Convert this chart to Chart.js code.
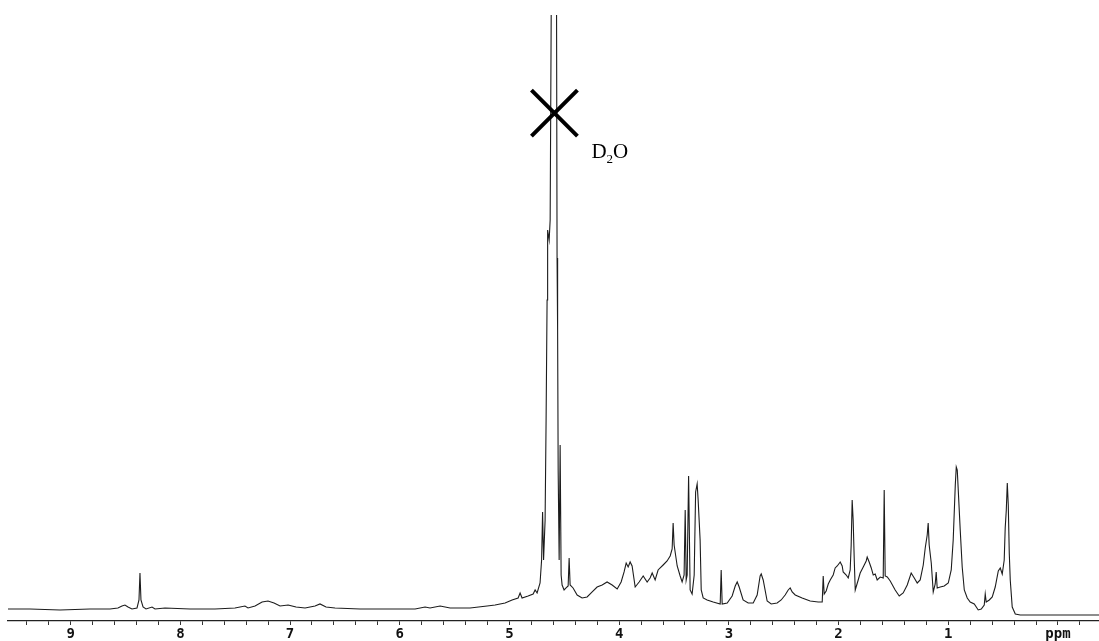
<!DOCTYPE html>
<html lang="en">
    <head>
        <meta charset="UTF-8" />
        <title>1H NMR spectrum</title>
        <script src="https://cdn.jsdelivr.net/npm/chart.js"></script>
        <style>
            body { margin: 0; background: #fff; }
            #wrap { width: 1099px; height: 641px; position: relative; }
        </style>
    </head>
    <body>
        <div id="wrap"><canvas id="nmrChart"></canvas></div>

        <script>
            // chemical shift (ppm), read left to right off the spectrum
            const shiftPpm = [
                9.571, 9.371, 9.097, 8.824, 8.641, 8.569, 8.532, 8.505, 8.477, 8.441,
                8.395, 8.377, 8.368, 8.359, 8.340, 8.313, 8.258, 8.231, 8.140, 7.912,
                7.684, 7.502, 7.411, 7.383, 7.319, 7.255, 7.201, 7.146, 7.091, 7.018,
                6.945, 6.863, 6.772, 6.727, 6.672, 6.590, 6.362, 6.088, 5.860, 5.769,
                5.724, 5.632, 5.541, 5.359, 5.204, 5.131, 5.040, 4.976, 4.921, 4.903,
                4.885, 4.830, 4.784, 4.766, 4.748, 4.721, 4.707, 4.698, 4.689, 4.675,
                4.666, 4.657, 4.652, 4.638, 4.629, 4.616, 4.593, 4.572, 4.566, 4.561,
                4.556, 4.547, 4.538, 4.529, 4.520, 4.502, 4.484, 4.465, 4.456, 4.447,
                4.420, 4.383, 4.338, 4.292, 4.246, 4.201, 4.155, 4.110, 4.064, 4.018,
                3.982, 3.955, 3.936, 3.918, 3.900, 3.882, 3.854, 3.818, 3.781, 3.745,
                3.718, 3.699, 3.672, 3.645, 3.626, 3.599, 3.563, 3.535, 3.517, 3.508,
                3.499, 3.471, 3.444, 3.426, 3.408, 3.398, 3.389, 3.380, 3.367, 3.353,
                3.335, 3.316, 3.303, 3.289, 3.280, 3.271, 3.262, 3.252, 3.234, 3.198,
                3.143, 3.079, 3.070, 3.061, 3.015, 2.970, 2.942, 2.924, 2.906, 2.870,
                2.824, 2.778, 2.742, 2.715, 2.705, 2.687, 2.651, 2.614, 2.560, 2.523,
                2.487, 2.459, 2.441, 2.423, 2.395, 2.332, 2.259, 2.186, 2.149, 2.140,
                2.131, 2.113, 2.094, 2.076, 2.049, 2.031, 2.012, 1.985, 1.967, 1.958,
                1.930, 1.912, 1.894, 1.885, 1.876, 1.867, 1.857, 1.848, 1.821, 1.803,
                1.775, 1.748, 1.739, 1.721, 1.702, 1.684, 1.666, 1.648, 1.620, 1.593,
                1.584, 1.575, 1.556, 1.529, 1.484, 1.447, 1.411, 1.374, 1.338, 1.310,
                1.283, 1.256, 1.228, 1.210, 1.192, 1.183, 1.174, 1.155, 1.137, 1.119,
                1.110, 1.101, 1.073, 1.037, 1.000, 0.973, 0.955, 0.936, 0.927, 0.918,
                0.909, 0.891, 0.873, 0.854, 0.827, 0.800, 0.763, 0.727, 0.699, 0.672,
                0.663, 0.654, 0.626, 0.599, 0.572, 0.544, 0.526, 0.508, 0.490, 0.481,
                0.471, 0.462, 0.453, 0.444, 0.435, 0.417, 0.389, 0.344, -0.377
            ];

            // signal intensity (arbitrary units, 100 = top of plot; the water peak runs off the top)
            const intensity = [
                1.98, 1.98, 1.82, 1.98, 1.98, 2.15, 2.48, 2.64, 2.31, 1.98,
                2.15, 3.47, 7.92, 3.47, 2.31, 1.98, 2.31, 1.98, 2.15, 1.98,
                1.98, 2.15, 2.48, 2.15, 2.48, 3.14, 3.30, 2.97, 2.48, 2.64,
                2.31, 2.15, 2.48, 2.81, 2.31, 2.15, 1.98, 1.98, 1.98, 2.31,
                2.15, 2.48, 2.15, 2.15, 2.48, 2.64, 2.97, 3.47, 3.80, 4.62,
                3.80, 4.13, 4.46, 5.12, 4.62, 6.27, 10.07, 17.99, 10.07, 16.67,
                33.17, 52.97, 64.52, 62.87, 66.17, 112.4, 150, 112.4, 59.90, 48.02,
                24.92, 10.07, 29.04, 7.59, 5.94, 5.12, 5.45, 5.78, 10.40, 5.94,
                5.45, 4.29, 3.80, 3.96, 4.79, 5.61, 5.94, 6.44, 5.94, 5.28,
                6.44, 8.09, 9.57, 8.91, 9.74, 9.08, 5.61, 6.44, 7.43, 6.44,
                7.10, 7.92, 6.77, 8.42, 8.75, 9.24, 9.90, 10.73, 11.88, 16.17,
                12.54, 9.08, 7.43, 6.44, 7.59, 18.32, 6.77, 7.59, 23.93, 5.12,
                4.46, 7.59, 21.29, 22.61, 19.97, 16.67, 13.37, 5.12, 3.80, 3.47,
                3.14, 2.81, 8.42, 2.81, 2.97, 4.13, 5.78, 6.44, 5.61, 3.47,
                2.97, 2.97, 4.29, 7.43, 7.76, 6.77, 3.30, 2.81, 2.97, 3.47,
                4.29, 5.12, 5.45, 4.79, 4.29, 3.80, 3.30, 3.14, 3.14, 7.43,
                4.46, 4.95, 6.11, 6.77, 7.59, 8.75, 9.08, 9.74, 9.08, 8.09,
                7.59, 7.10, 8.42, 12.54, 19.97, 16.67, 10.07, 5.12, 6.77, 7.92,
                8.91, 9.90, 10.56, 9.74, 8.75, 7.59, 7.76, 6.77, 7.26, 7.10,
                21.62, 7.43, 7.26, 6.60, 5.12, 4.13, 4.62, 5.94, 7.92, 7.10,
                6.27, 6.77, 9.24, 12.05, 14.19, 16.17, 12.54, 9.57, 4.79, 6.11,
                8.09, 5.45, 5.61, 5.78, 6.27, 8.42, 13.37, 22.44, 25.41, 24.92,
                21.62, 15.02, 8.91, 5.12, 3.80, 3.14, 2.81, 1.82, 1.98, 2.64,
                4.46, 3.14, 3.47, 3.96, 5.61, 8.25, 8.75, 7.76, 10.07, 15.35,
                18.32, 22.77, 19.14, 11.22, 6.77, 2.31, 1.16, 0.99, 0.99
            ];

            // axis labels
            const majorTicks = [9, 8, 7, 6, 5, 4, 3, 2, 1];
            const axisUnit = "ppm";

            // solvent mark
            const solventLabel = "D2O";
            const solventShift = 4.59;
            const solventLevel = 83.8;

            const points = shiftPpm.map((x, i) => ({ x: x, y: intensity[i] }));

            // draws the big cross over the water peak and its D2O label
            const solventMark = {
                id: "solventMark",
                afterDraw(chart) {
                    const ctx = chart.ctx;
                    const cx = chart.scales.x.getPixelForValue(solventShift);
                    const cy = chart.scales.y.getPixelForValue(solventLevel);
                    const r = 23;
                    ctx.save();
                    ctx.strokeStyle = "#000";
                    ctx.lineWidth = 4;
                    ctx.beginPath();
                    ctx.moveTo(cx - r, cy - r);
                    ctx.lineTo(cx + r, cy + r);
                    ctx.moveTo(cx + r, cy - r);
                    ctx.lineTo(cx - r, cy + r);
                    ctx.stroke();

                    // D, subscript 2, O
                    ctx.fillStyle = "#000";
                    ctx.textBaseline = "alphabetic";
                    let tx = cx + 37;
                    const ty = cy + 45;
                    ctx.font = "21px 'Liberation Serif', serif";
                    ctx.fillText(solventLabel[0], tx, ty);
                    tx += ctx.measureText(solventLabel[0]).width;
                    ctx.font = "13px 'Liberation Serif', serif";
                    ctx.fillText(solventLabel[1], tx, ty + 5);
                    tx += ctx.measureText(solventLabel[1]).width;
                    ctx.font = "21px 'Liberation Serif', serif";
                    ctx.fillText(solventLabel[2], tx, ty);
                    ctx.restore();
                },
            };

            const config = {
                type: "line",
                data: {
                    datasets: [
                        {
                            label: "1H NMR",
                            data: points,
                            borderColor: "#1c1c1c",
                            borderWidth: 1.1,
                            pointRadius: 0,
                            tension: 0,
                            fill: false,
                        },
                    ],
                },
                options: {
                    responsive: true,
                    maintainAspectRatio: false,
                    animation: false,
                    layout: { padding: { top: 15, left: 8, right: 0, bottom: 0 } },
                    plugins: {
                        legend: { display: false },
                        tooltip: { enabled: false },
                    },
                    scales: {
                        x: {
                            type: "linear",
                            reverse: true,
                            min: -0.374,
                            max: 9.571,
                            afterBuildTicks(scale) {
                                const t = [];
                                for (let k = 47; k >= -1; k--) {
                                    t.push({ value: Math.round(k * 2) / 10 });
                                }
                                scale.ticks = t;
                            },
                            afterFit(scale) {
                                scale.height = 20;
                            },
                            grid: {
                                drawOnChartArea: false,
                                drawTicks: true,
                                tickLength: 4,
                                tickColor: "#333",
                                tickWidth: 1,
                            },
                            border: { display: true, color: "#222", width: 1.3 },
                            ticks: {
                                autoSkip: false,
                                maxRotation: 0,
                                padding: 1,
                                color: "#111",
                                font: { family: "'DejaVu Sans Mono', monospace", size: 14, weight: "bold" },
                                callback(value) {
                                    if (Math.abs(value) < 1e-9) return axisUnit;
                                    const r = Math.round(value);
                                    if (Math.abs(value - r) < 1e-9 && majorTicks.includes(r)) return String(r);
                                    return "";
                                },
                            },
                        },
                        y: {
                            display: false,
                            min: 0,
                            max: 100,
                        },
                    },
                },
                plugins: [solventMark],
            };

            document.addEventListener("DOMContentLoaded", function () {
                const ctx = document.getElementById("nmrChart").getContext("2d");
                new Chart(ctx, config);
            });
        </script>
    </body>
</html>
